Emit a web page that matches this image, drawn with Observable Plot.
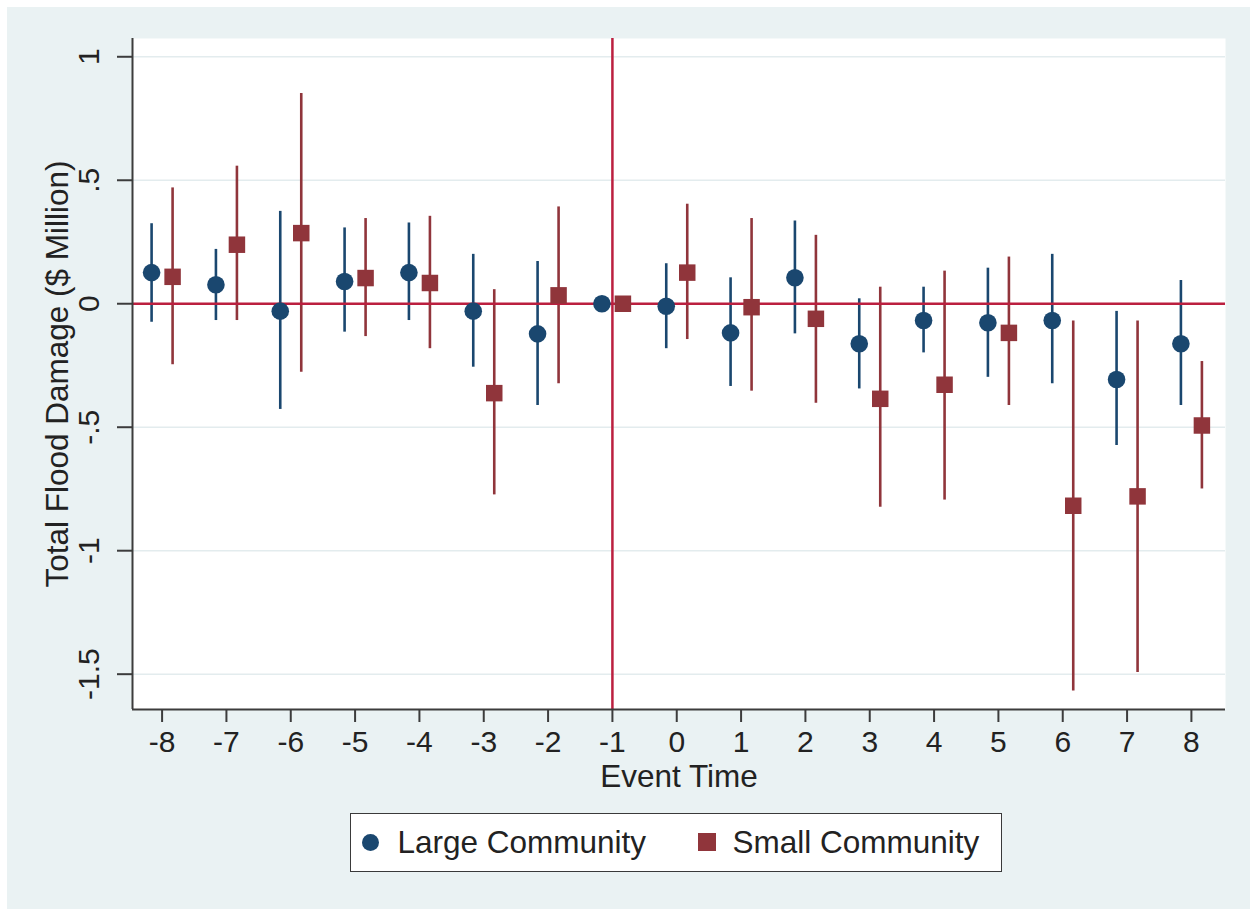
<!DOCTYPE html>
<html>
<head>
<meta charset="utf-8">
<script src="https://cdn.jsdelivr.net/npm/d3@7"></script>
<script src="https://cdn.jsdelivr.net/npm/@observablehq/plot@0.6"></script>
<style>
  html, body { margin: 0; padding: 0; background: #ffffff; }
  #panel {
    position: absolute; left: 7px; top: 7px; width: 1243px; height: 902px;
    background: #eaf2f3; font-family: "Liberation Sans", Arial, sans-serif; color: #222;
  }
  #chart { position: absolute; left: 0; top: 0; }
  #legend {
    position: absolute; left: 343px; top: 806px; width: 652px; height: 59px;
    box-sizing: border-box; border: 1.5px solid #3a3a3a; background: #ffffff;
    font-size: 31.5px;
  }
  #legend .item { position: absolute; top: 0; height: 56px; display: flex; align-items: center; white-space: nowrap; }
  #legend .sym { display: inline-block; }
</style>
</head>
<body>
<div id="panel">
  <div id="chart"></div>
  <div id="legend"></div>
</div>
<script>
// Event-study estimates of total flood damage ($ million) with 95% intervals
const eventTime = [-8, -7, -6, -5, -4, -3, -2, -1, 0, 1, 2, 3, 4, 5, 6, 7, 8];

const largeEst = [0.126, 0.077, -0.030, 0.090, 0.126, -0.030, -0.122, 0, -0.010, -0.118, 0.105, -0.162, -0.068, -0.077, -0.068, -0.307, -0.162];
const largeLo  = [-0.075, -0.068, -0.428, -0.115, -0.068, -0.257, -0.412, 0, -0.182, -0.335, -0.122, -0.345, -0.199, -0.298, -0.324, -0.574, -0.412];
const largeHi  = [0.324, 0.220, 0.374, 0.307, 0.327, 0.200, 0.171, 0, 0.162, 0.105, 0.335, 0.020, 0.067, 0.144, 0.200, -0.031, 0.094];

const smallEst = [0.109, 0.239, 0.286, 0.104, 0.084, -0.362, 0.034, 0, 0.126, -0.014, -0.061, -0.385, -0.328, -0.118, -0.818, -0.780, -0.493];
const smallLo  = [-0.247, -0.068, -0.277, -0.133, -0.182, -0.774, -0.324, 0, -0.145, -0.354, -0.403, -0.824, -0.795, -0.412, -1.568, -1.493, -0.750];
const smallHi  = [0.469, 0.557, 0.851, 0.345, 0.354, 0.057, 0.392, 0, 0.403, 0.345, 0.277, 0.067, 0.132, 0.189, -0.070, -0.070, -0.234];

const seriesNames = ["Large Community", "Small Community"];

const xTicks = [-8, -7, -6, -5, -4, -3, -2, -1, 0, 1, 2, 3, 4, 5, 6, 7, 8];
const xTickLabels = ["-8", "-7", "-6", "-5", "-4", "-3", "-2", "-1", "0", "1", "2", "3", "4", "5", "6", "7", "8"];
const yTicks = [-1.5, -1, -0.5, 0, 0.5, 1];
const yTickLabels = ["-1.5", "-1", "-.5", "0", ".5", "1"];

const xTitle = "Event Time";
const yTitle = "Total Flood Damage ($ Million)";
const treatmentTime = [-1];
const zeroLine = [0];

// styling
const navy = "#1a476f";
const maroon = "#90353b";
const refRed = "#bb1f3f";
const axisInk = "#3c3c3c";
const gridInk = "#e3ecee";
const xDomain = [-8.46, 8.53];
const yDomain = [-1.643, 1.074];
const dodge = 10.5;

const large = eventTime.map((t, i) => ({t, est: largeEst[i], lo: largeLo[i], hi: largeHi[i]}));
const small = eventTime.map((t, i) => ({t, est: smallEst[i], lo: smallLo[i], hi: smallHi[i]}));
const yTickRows = yTicks.map((v, i) => ({v, label: yTickLabels[i]}));

const chart = Plot.plot({
  width: 1243,
  height: 795,
  marginLeft: 125,
  marginRight: 25,
  marginTop: 31,
  marginBottom: 93,
  style: {background: "transparent", fontFamily: "'Liberation Sans', Arial, sans-serif", color: "#222"},
  x: {domain: xDomain, axis: null},
  y: {domain: yDomain, axis: null},
  marks: [
    Plot.frame({fill: "white", stroke: "none"}),
    Plot.gridY(yTicks, {stroke: gridInk, strokeOpacity: 1, strokeWidth: 1.5}),
    // confidence intervals
    Plot.ruleX(large, {x: "t", y1: "lo", y2: "hi", dx: -dodge, stroke: navy, strokeWidth: 2.6}),
    Plot.ruleX(small, {x: "t", y1: "lo", y2: "hi", dx: dodge, stroke: maroon, strokeWidth: 2.6}),
    // reference lines
    Plot.ruleY(zeroLine, {stroke: refRed, strokeWidth: 2.5}),
    Plot.ruleX(treatmentTime, {stroke: refRed, strokeWidth: 2.5}),
    // point estimates
    Plot.dot(large, {x: "t", y: "est", dx: -dodge, r: 8.8, fill: navy, symbol: "circle"}),
    Plot.dot(small, {x: "t", y: "est", dx: dodge, r: 9.3, fill: maroon, symbol: "square"}),
    // axis lines
    Plot.ruleX([xDomain[0]], {stroke: axisInk, strokeWidth: 2}),
    Plot.ruleY([yDomain[0]], {stroke: axisInk, strokeWidth: 2}),
    // x axis
    Plot.axisX(xTicks, {
      tickSize: 13, tickPadding: 8, fontSize: 30, label: null,
      stroke: axisInk, strokeWidth: 2,
      tickFormat: d => xTickLabels[xTicks.indexOf(d)]
    }),
    // y axis ticks with rotated labels
    Plot.axisY(yTicks, {tickSize: 15, tickFormat: () => "", label: null, stroke: axisInk, strokeWidth: 2}),
    Plot.text(yTickRows, {y: "v", text: "label", frameAnchor: "left", dx: -43, rotate: -90, textAnchor: "middle", lineAnchor: "middle", fontSize: 30}),
    // titles
    Plot.text([xTitle], {frameAnchor: "bottom", dy: 67, textAnchor: "middle", lineAnchor: "middle", fontSize: 31.5}),
    Plot.text([yTitle], {frameAnchor: "left", dx: -74.5, rotate: -90, textAnchor: "middle", lineAnchor: "middle", fontSize: 31.5})
  ]
});
document.getElementById("chart").appendChild(chart);

// legend
const legend = document.getElementById("legend");
const items = [
  {name: seriesNames[0], color: navy, round: true, symLeft: 10.5, textLeft: 46.5},
  {name: seriesNames[1], color: maroon, round: false, symLeft: 346.5, textLeft: 381.5}
];
for (const it of items) {
  const sym = document.createElement("div");
  sym.className = "item";
  sym.style.left = it.symLeft + "px";
  const s = document.createElement("span");
  s.className = "sym";
  s.style.width = it.round ? "17px" : "18px";
  s.style.height = it.round ? "17px" : "18px";
  s.style.background = it.color;
  s.style.borderRadius = it.round ? "50%" : "0";
  sym.appendChild(s);
  legend.appendChild(sym);
  const lab = document.createElement("div");
  lab.className = "item";
  lab.style.left = it.textLeft + "px";
  lab.textContent = it.name;
  legend.appendChild(lab);
}
</script>
</body>
</html>
